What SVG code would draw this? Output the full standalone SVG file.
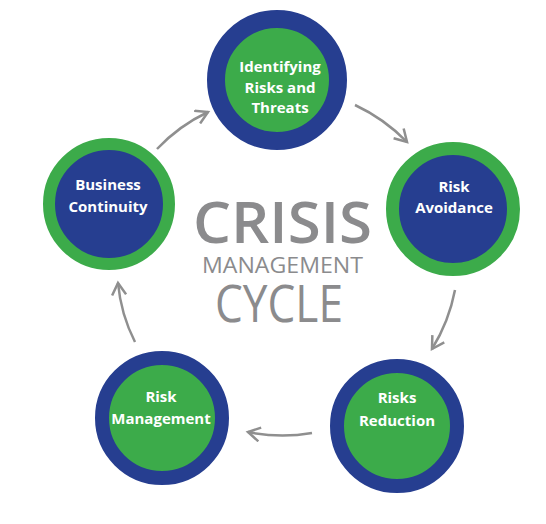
<svg xmlns="http://www.w3.org/2000/svg" width="546" height="524" viewBox="0 0 546 524">
<defs>
<style>
.bo{fill:#3cab4a;stroke:#263e90}
.go{fill:#263e90;stroke:#3cab4a}
.lbl{font-family:"Open Sans","Liberation Sans",sans-serif;font-weight:700;font-size:15px;fill:#ffffff;text-anchor:middle}
.arr{fill:none;stroke:#8f8f8f;stroke-width:2.5;marker-end:url(#ah)}
.ct{font-family:"Open Sans","Liberation Sans",sans-serif;fill:#8b8b8d;text-anchor:middle}
</style>
<marker id="ah" markerUnits="userSpaceOnUse" markerWidth="16" markerHeight="16" viewBox="0 0 16 16" refX="13" refY="8" orient="auto">
<path d="M1,1 L13,8 L1,15" fill="none" stroke="#8f8f8f" stroke-width="2.5"/>
</marker>
</defs>
<rect width="546" height="524" fill="#ffffff"/>
<g id="connectors">
<path class="arr" d="M157,149 A170,170 0 0 1 208,112"/>
<path class="arr" d="M355,105 A178,178 0 0 1 407,142"/>
<path class="arr" d="M455,290 A175,175 0 0 1 432,349"/>
<path class="arr" d="M312,433 A169,169 0 0 1 248,432"/>
<path class="arr" d="M135,342 A163,163 0 0 1 118,283"/>
</g>
<g id="center-title">
<text class="ct" x="282.5" y="243" font-size="57" font-weight="600" textLength="179" lengthAdjust="spacingAndGlyphs">CRISIS</text>
<text class="ct" x="282.5" y="273" font-size="22" textLength="161" lengthAdjust="spacingAndGlyphs">MANAGEMENT</text>
<text class="ct" x="279" y="322" font-size="51" textLength="128" lengthAdjust="spacingAndGlyphs">CYCLE</text>
</g>
<g id="node-identifying">
<circle class="bo" cx="277" cy="80" r="61" stroke-width="18"/>
<text class="lbl" x="280" y="72">Identifying</text>
<text class="lbl" x="280" y="93">Risks and</text>
<text class="lbl" x="280" y="113">Threats</text>
</g>
<g id="node-avoidance">
<circle class="go" cx="453" cy="209" r="60.5" stroke-width="13"/>
<text class="lbl" x="454" y="192">Risk</text>
<text class="lbl" x="454" y="213">Avoidance</text>
</g>
<g id="node-reduction">
<circle class="bo" cx="397" cy="426" r="60" stroke-width="14"/>
<text class="lbl" x="397" y="403">Risks</text>
<text class="lbl" x="397" y="426">Reduction</text>
</g>
<g id="node-management">
<circle class="bo" cx="162" cy="418" r="60" stroke-width="14"/>
<text class="lbl" x="161" y="402">Risk</text>
<text class="lbl" x="161" y="424">Management</text>
</g>
<g id="node-continuity">
<circle class="go" cx="109" cy="204" r="60" stroke-width="12"/>
<text class="lbl" x="108" y="190">Business</text>
<text class="lbl" x="108" y="212">Continuity</text>
</g>
</svg>
